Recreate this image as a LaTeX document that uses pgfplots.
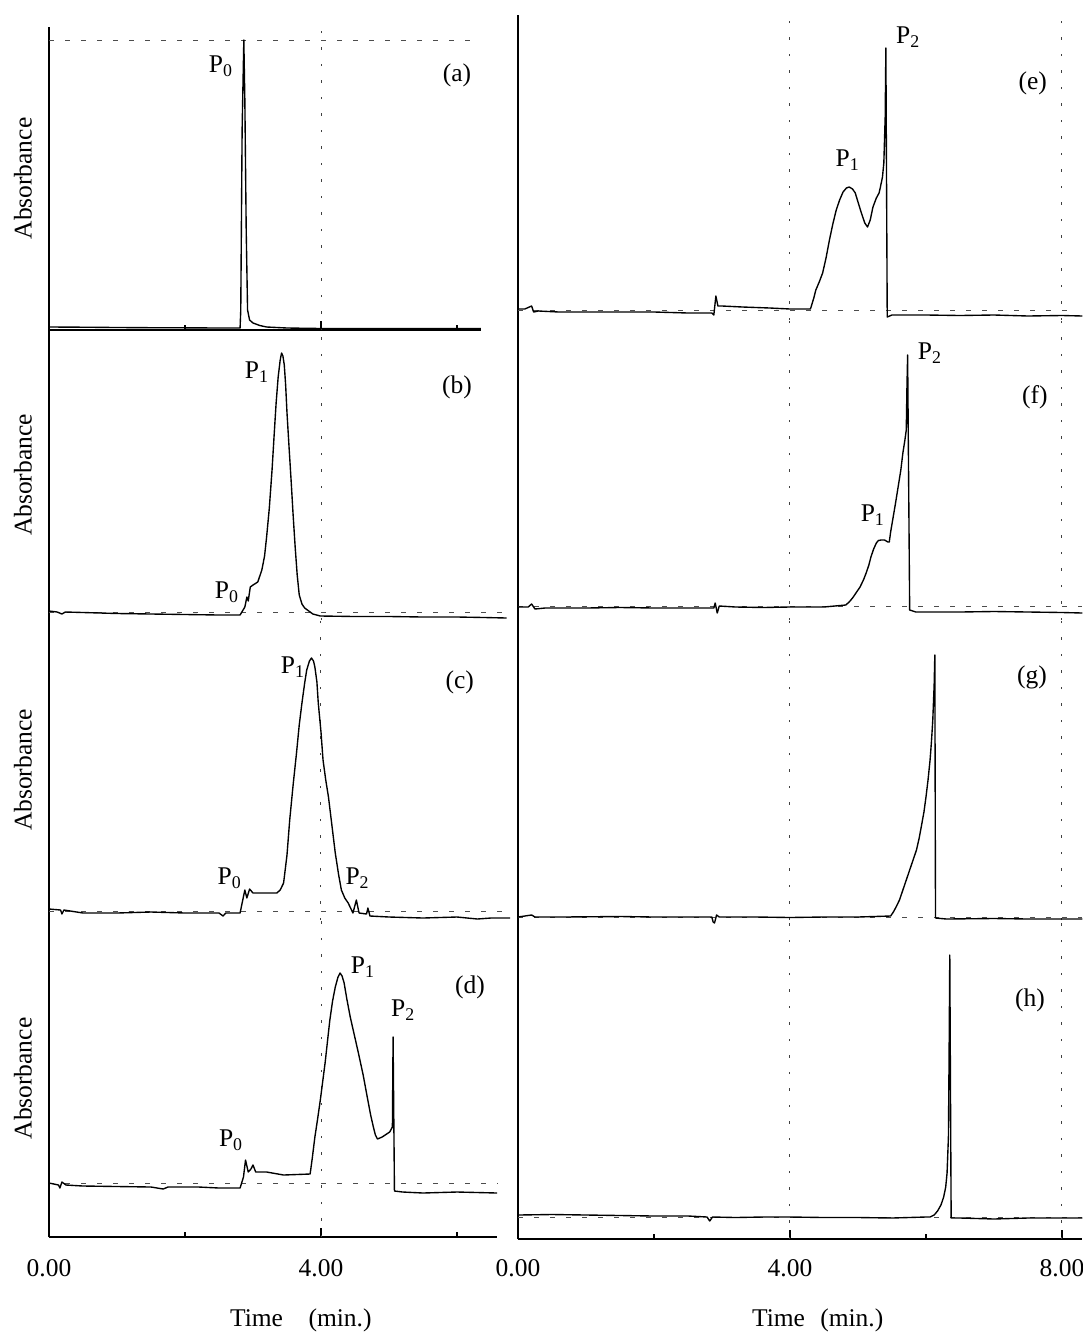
\documentclass[border=0pt]{standalone}
\usepackage{pgfplots}
\pgfplotsset{compat=1.18}
\usepackage{fontspec}
\setmainfont{Liberation Serif}
\begin{document}
\fontsize{10.2}{12}\selectfont
\begin{tikzpicture}
\useasboundingbox (0pt,0pt) rectangle (433.2pt,-532.8pt);
\pgfplotsset{
  panel/.style={scale only axis, anchor=south west, xmin=0, ymin=0, clip=false,
    axis line style={line width=0.5pt,-,black}, tick align=inside,
    major tick length=3.6pt, minor tick length=2.2pt,
    every tick/.style={line width=0.5pt,black},
    xtick=\empty, ytick=\empty, xticklabels={}, yticklabels={},
    xticklabel style={anchor=center},
  },
  nobottom/.style={axis x line=none, axis y line*=left},
  withbottom/.style={axis x line*=bottom, axis y line*=left},
  absl/.style={ylabel={Absorbance}, ylabel style={at={([xshift=-10.4pt]axis description cs:0,0.5)}, anchor=center}},
  curve/.style={black, line width=0.55pt, line join=round, mark=none},
  dotl/.style={black!75, line width=0.4pt, dash pattern=on 1.0pt off 5.6pt, mark=none},
  dashl/.style={black!70, line width=0.4pt, dash pattern=on 1.8pt off 4.6pt, mark=none},
}
% ---------------- (a)
\begin{axis}[panel, withbottom, absl, at={(19.6pt,-132pt)}, width=172.72pt, height=121.2pt,
  xmax=6.35, ymax=303, xtick={4}, minor xtick={2,6}, minor ytick={2,60,117,175,233,290}]
\addplot[dashl] coordinates {(0,290) (6.26,290)};
\addplot[dotl] coordinates {(4,0) (4,303)};
\addplot[curve] coordinates {(0,3) (0.5,2.8) (1,2.5) (1.5,2.3) (2,2.2) (2.5,2) (2.81,2) (2.82,20) (2.84,200) (2.865,290) (2.88,230) (2.9,100) (2.92,20) (2.95,10) (3.0,7) (3.1,4.5) (3.2,3) (3.5,2) (4,1.5) (5,1.5) (6,1.5) (6.35,1.5)};
\node at (axis cs:2.53,264) {P\textsubscript{0}};
\node at (axis cs:6.0,255) {(a)};
\end{axis}
% ---------------- (b)
\begin{axis}[panel, nobottom, absl, at={(19.6pt,-248pt)}, width=183.6pt, height=116pt,
  xmax=6.75, ymax=290]
\addplot[dashl] coordinates {(0,8) (6.73,8)};
\addplot[dotl] coordinates {(4,0) (4,290)};
\addplot[curve] coordinates {(0,9) (0.12,8) (0.19,6) (0.24,8) (0.5,7.5) (1,6.5) (1.5,6) (2,5.5) (2.5,5) (2.81,5) (2.88,13) (2.91,23) (2.93,19) (2.96,33) (3.0,35) (3.07,38) (3.13,50) (3.17,64) (3.2,83) (3.24,112) (3.28,150) (3.31,184) (3.34,217) (3.37,243) (3.40,260) (3.42,267) (3.44,264) (3.46,255) (3.48,235) (3.5,207) (3.53,173) (3.56,140) (3.59,105) (3.62,73) (3.65,45) (3.68,25) (3.72,16) (3.76,12) (3.88,6) (3.99,4) (4.5,3.5) (5,3.5) (5.5,3) (6,3) (6.4,2.5) (6.73,2)};
\node at (axis cs:2.62,28) {P\textsubscript{0}};
\node at (axis cs:3.06,248) {P\textsubscript{1}};
\node at (axis cs:6.0,233) {(b)};
\end{axis}
% ---------------- (c)
\begin{axis}[panel, nobottom, absl, at={(19.6pt,-368pt)}, width=184.96pt, height=120pt,
  xmax=6.8, ymax=300]
\addplot[dashl] coordinates {(0,9) (6.78,9)};
\addplot[dotl] coordinates {(4,0) (4,300)};
\addplot[curve] coordinates {(0,11) (0.17,10) (0.19,6) (0.22,10) (0.5,7) (1,7) (1.5,8) (2,7) (2.5,7) (2.56,4) (2.6,7) (2.81,7) (2.88,30) (2.91,22) (2.95,31) (3.0,27) (3.35,27) (3.40,30) (3.45,37) (3.50,65) (3.54,100) (3.59,135) (3.64,167) (3.68,195) (3.72,217) (3.76,237) (3.79,250) (3.83,259) (3.86,262) (3.89,259) (3.91,253) (3.94,238) (3.96,217) (4.0,188) (4.03,160) (4.07,140) (4.11,123) (4.16,95) (4.21,67) (4.26,45) (4.3,30) (4.35,22) (4.4,17) (4.47,7) (4.52,20) (4.56,7) (4.67,6) (4.69,12) (4.72,4) (5.0,3) (5.5,2) (6.0,3) (6.3,1) (6.5,2) (6.78,2)};
\node at (axis cs:2.66,42) {P\textsubscript{0}};
\node at (axis cs:3.59,253) {P\textsubscript{1}};
\node at (axis cs:4.54,42) {P\textsubscript{2}};
\node at (axis cs:6.04,238) {(c)};
\end{axis}
% ---------------- (d)
\begin{axis}[panel, withbottom, absl, at={(19.6pt,-494.8pt)}, width=179.248pt, height=126.8pt,
  xmax=6.59, ymax=317, xtick={0,4}, xticklabels={0.00,4.00}, minor xtick={2,6},
  xticklabel style={yshift=-12.4pt},
  xlabel={Time\quad(min.)}, xlabel style={at={([yshift=-33.2pt]axis description cs:0.562,0)}, anchor=center}]
\addplot[dashl] coordinates {(0,54) (6.59,54)};
\addplot[dotl] coordinates {(4,0) (4,317)};
\addplot[curve] coordinates {(0,54) (0.14,52) (0.16,49) (0.19,55) (0.25,52) (0.5,51) (1.0,50.5) (1.5,50) (1.68,48) (1.75,50) (2.2,50) (2.5,49) (2.81,49) (2.86,60) (2.89,77) (2.93,65) (2.97,68) (3.0,72) (3.04,65) (3.2,65) (3.45,62) (3.84,63) (3.87,78) (3.91,100) (3.95,118) (3.99,137) (4.06,174) (4.13,217) (4.17,236) (4.21,250) (4.25,260) (4.28,264) (4.31,261) (4.34,254) (4.38,238) (4.43,220) (4.49,202) (4.55,184) (4.62,162) (4.68,140) (4.73,122) (4.77,110) (4.8,102) (4.83,98) (4.9,100) (5.01,105) (5.05,110) (5.06,200) (5.08,46) (5.2,45) (5.5,44) (6,45) (6.59,44)};
\node at (axis cs:2.68,97) {P\textsubscript{0}};
\node at (axis cs:4.62,270) {P\textsubscript{1}};
\node at (axis cs:5.21,227) {P\textsubscript{2}};
\node at (axis cs:6.19,250) {(d)};
\end{axis}
% ---------------- (e)
\begin{axis}[panel, nobottom, at={(207.2pt,-128pt)}, width=225.76pt, height=122pt,
  xmax=8.3, ymax=305]
\addplot[dashl] coordinates {(0,10) (8.2,10)};
\addplot[dotl] coordinates {(4,0) (4,305)};
\addplot[dotl] coordinates {(8,0) (8,305)};
\addplot[curve] coordinates {(0,11) (0.1,11) (0.2,14) (0.23,8) (0.3,9) (0.6,8) (1.0,8) (1.5,8) (2.0,8) (2.5,7) (2.85,7) (2.88,5) (2.91,24) (2.94,14) (3.0,14) (3.3,13) (3.7,12) (4.0,11) (4.3,11) (4.31,13) (4.35,22) (4.38,30) (4.43,38) (4.48,47) (4.53,62) (4.58,80) (4.63,96) (4.68,110) (4.73,120) (4.78,128) (4.83,132) (4.87,133) (4.92,131) (4.96,127) (5.0,118) (5.05,107) (5.1,97) (5.14,93) (5.18,100) (5.22,113) (5.27,122) (5.31,127) (5.33,133) (5.36,143) (5.38,157) (5.40,203) (5.41,272) (5.43,3) (5.5,5) (6.0,5) (6.5,4.5) (7.0,5) (7.5,4) (8.0,4.5) (8.3,4)};
\node at (axis cs:5.74,283) {P\textsubscript{2}};
\node at (axis cs:4.85,160) {P\textsubscript{1}};
\node at (axis cs:7.57,237) {(e)};
\end{axis}
% ---------------- (f)
\begin{axis}[panel, nobottom, at={(207.2pt,-248pt)}, width=225.76pt, height=120pt,
  xmax=8.3, ymax=300]
\addplot[dashl] coordinates {(0,14) (8.3,14)};
\addplot[dotl] coordinates {(4,0) (4,300)};
\addplot[dotl] coordinates {(8,0) (8,300)};
\addplot[curve] coordinates {(0,13) (0.15,13) (0.2,16) (0.25,11) (0.4,12) (1.0,12) (1.5,12.5) (2.0,12) (2.5,12) (2.88,12) (2.9,17) (2.93,7) (2.96,14) (3.2,13) (3.6,12.5) (4.0,13) (4.5,13) (4.82,15) (4.87,18) (4.92,22) (4.97,27) (5.03,33) (5.08,40) (5.12,47) (5.16,55) (5.19,63) (5.23,71) (5.27,77) (5.30,79.5) (5.34,80) (5.39,80) (5.44,78) (5.46,78) (5.48,88) (5.51,100) (5.55,116) (5.59,133) (5.63,150) (5.66,167) (5.69,180) (5.71,190) (5.72,233) (5.73,265) (5.76,10) (5.85,8) (6.5,8) (7.0,8.5) (7.5,8) (8.0,7.5) (8.3,7)};
\node at (axis cs:6.06,267) {P\textsubscript{2}};
\node at (axis cs:5.22,105) {P\textsubscript{1}};
\node at (axis cs:7.6,223) {(f)};
\end{axis}
% ---------------- (g)
\begin{axis}[panel, nobottom, at={(207.2pt,-368pt)}, width=225.76pt, height=120pt,
  xmax=8.3, ymax=300, minor ytick={232}]
\addplot[dashl] coordinates {(0,3) (8.3,3)};
\addplot[dotl] coordinates {(4,0) (4,300)};
\addplot[dotl] coordinates {(8,0) (8,300)};
\addplot[curve] coordinates {(0,3) (0.2,5) (0.25,3) (0.66,3) (1.5,3.5) (2.0,3) (2.5,3) (2.85,3) (2.87,-2) (2.89,-3) (2.92,5) (2.96,3) (3.5,3) (4.0,2.5) (4.5,3) (5.0,3) (5.48,4) (5.52,8) (5.56,13) (5.61,20) (5.66,30) (5.71,40) (5.76,50) (5.81,60) (5.86,70) (5.9,82) (5.93,93) (5.97,108) (6.0,123) (6.03,140) (6.06,160) (6.08,178) (6.1,200) (6.12,235) (6.13,265) (6.14,2) (6.3,1) (7.0,1.5) (7.5,1) (8.0,1) (8.3,1)};
\node at (axis cs:7.56,243) {(g)};
\end{axis}
% ---------------- (h)
\begin{axis}[panel, withbottom, at={(207.2pt,-495.6pt)}, width=225.76pt, height=127.6pt,
  xmax=8.3, ymax=319, minor ytick={137,251}, xtick={0,4,8}, xticklabels={0.00,4.00,8.00}, minor xtick={2,6},
  xticklabel style={yshift=-11.6pt},
  xlabel={Time\hspace{0.6em}(min.)}, xlabel style={at={([yshift=-32.4pt]axis description cs:0.531,0)}, anchor=center}]
\addplot[dashl] coordinates {(0,22) (8.3,22)};
\addplot[dotl] coordinates {(4,0) (4,319)};
\addplot[dotl] coordinates {(8,0) (8,319)};
\addplot[curve] coordinates {(0,24) (0.5,24.5) (1.0,24) (1.5,23.5) (2.0,23) (2.5,23) (2.78,22) (2.82,18) (2.86,22) (3.2,21.5) (3.6,22) (4.0,22) (4.5,21.5) (5.0,21.5) (5.5,21) (6.0,22) (6.06,22) (6.12,24) (6.17,28) (6.22,34) (6.26,42) (6.29,52) (6.31,66) (6.33,102) (6.34,186) (6.35,284) (6.37,21) (6.5,21) (7.0,20) (7.5,21) (8.0,21) (8.3,21)};
\node at (axis cs:7.53,239) {(h)};
\end{axis}
\end{tikzpicture}
\end{document}
